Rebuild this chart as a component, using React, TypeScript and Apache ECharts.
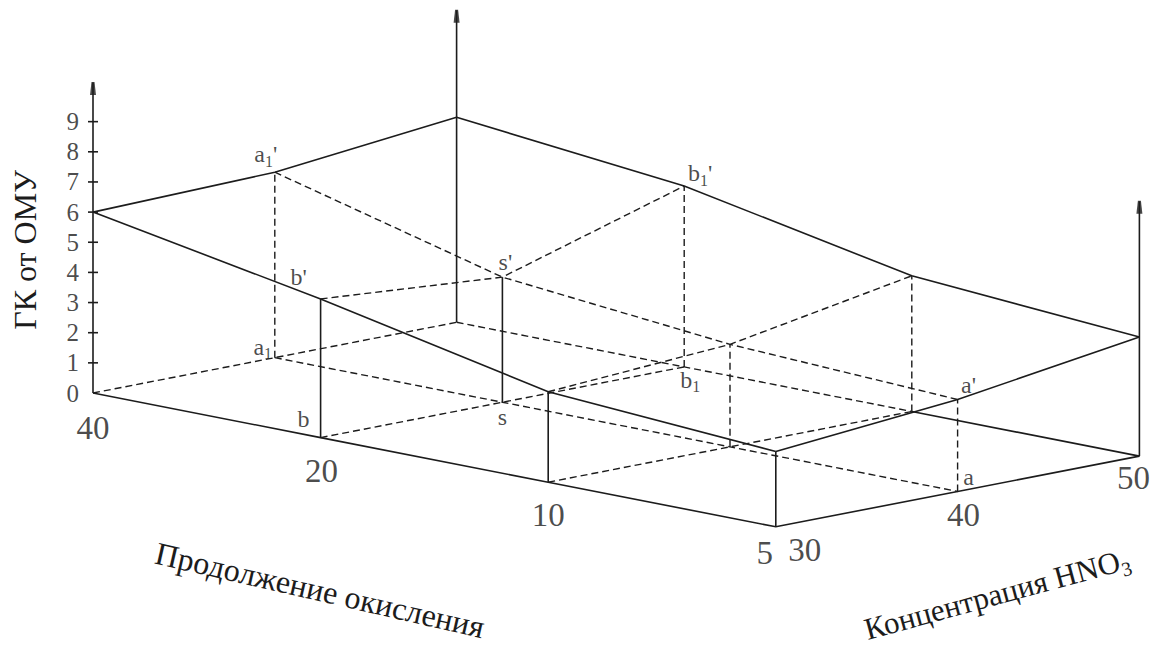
import React, { useEffect, useRef } from "react";
import * as echarts from "echarts";

// Oxidation time (categories along the front edge) and HNO3 concentration
const durations = [40, 20, 10, 5];
const concentrations = [30, 40, 50];

// ГК от ОМУ for each oxidation time, one list per HNO3 concentration
const gkConc30 = [6.0, 4.6, 3.0, 2.5];
const gkConc40 = [6.15, 4.15, 3.4, 3.05];
const gkConc50 = [6.8, 6.0, 4.5, 3.95];

// Vertical scale tick labels
const gkTicks = [0, 1, 2, 3, 4, 5, 6, 7, 8, 9];

// Heights reached by the three drawn vertical axes
const axisTopFront = 10.3;
const axisTopBack = 10.35;
const axisTopRight = 8.45;

// Named points: [duration index, concentration index, on surface?, name]
const pointNames: [number, number, boolean, string][] = [
  [0, 1, true, "a1'"],
  [1, 0, true, "b'"],
  [1, 1, true, "s'"],
  [1, 2, true, "b1'"],
  [3, 1, true, "a'"],
  [0, 1, false, "a1"],
  [1, 0, false, "b"],
  [1, 1, false, "s"],
  [1, 2, false, "b1"],
  [3, 1, false, "a"],
];

const gkByConc = [gkConc30, gkConc40, gkConc50];

// ---- oblique projection (layout) ----
const ORIGIN = [93, 393];
const DUR_STEP = [227.6, 44.6];
const CONC_STEP = [18.18, -3.535];
const GK_STEP = 30.15;

const project = (di: number, conc: number, h: number): [number, number] => [
  ORIGIN[0] + di * DUR_STEP[0] + (conc - concentrations[0]) * CONC_STEP[0],
  ORIGIN[1] + di * DUR_STEP[1] + (conc - concentrations[0]) * CONC_STEP[1] - h * GK_STEP,
];
const top = (di: number, ci: number) => project(di, concentrations[ci], gkByConc[ci][di]);
const base = (di: number, ci: number) => project(di, concentrations[ci], 0);

const FONT = "Liberation Serif";
const INK = "#1c1c1c";

const labelOffsets: Record<string, [number, number]> = {
  "a1':top": [-9, -18],
  "b':top": [-22, -22],
  "s':top": [3, -15],
  "b1':top": [16, -13],
  "a':top": [11, -14],
  "a1:base": [-12, -11],
  "b:base": [-17, -19],
  "s:base": [0, 15],
  "b1:base": [6, 13],
  "a:base": [11, -14],
};
const durLabelOffsets: [number, number][] = [[0, 35], [1, 33], [0, 33], [-11, 26]];
const concLabelOffsets: [number, number][] = [[29, 23], [6, 24], [-6, 22]];

const richName = (name: string) => {
  const letter = name[0];
  const sub = name.includes("1") ? "{sub|1}" : "";
  const prime = name.endsWith("'") ? "{m|'}" : "";
  return `{m|${letter}}${sub}${prime}`;
};

export default function App() {
  const ref = useRef<HTMLDivElement>(null);

  useEffect(() => {
    if (!ref.current) return;
    const chart = echarts.init(ref.current, undefined, { renderer: "svg" });

    const nD = durations.length;
    const nC = concentrations.length;
    const idxD = durations.map((_, i) => i);
    const idxC = concentrations.map((_, i) => i);

    const solid: [number, number][][] = [];
    const dashed: [number, number][][] = [];

    // surface outline
    solid.push(idxD.map((i) => top(i, 0)));
    solid.push(idxC.map((j) => top(0, j)));
    solid.push(idxD.map((i) => top(i, nC - 1)));
    solid.push(idxC.map((j) => top(nD - 1, j)));
    // base front edges
    solid.push([...idxD.map((i) => base(i, 0)), ...idxC.slice(1).map((j) => base(nD - 1, j))]);
    solid.push([base(2, nC - 1), base(3, nC - 1)]);
    // solid verticals
    [[1, 0], [1, 1], [2, 0], [3, 0]].forEach(([i, j]) => solid.push([base(i, j), top(i, j)]));
    // axes
    const axes: [number, number][][] = [
      [project(0, 30, 0), project(0, 30, axisTopFront)],
      [project(0, 50, 0), project(0, 50, axisTopBack)],
      [project(3, 50, 0), project(3, 50, axisTopRight)],
    ];
    axes.forEach((a) => solid.push(a));
    // ticks on the front-left axis
    gkTicks.slice(1).forEach((t) => {
      const [x, y] = project(0, 30, t);
      solid.push([[x - 5, y], [x + 5, y]]);
    });

    // dashed grid on the surface
    dashed.push(idxD.map((i) => top(i, 1)));
    dashed.push(idxC.map((j) => top(1, j)));
    dashed.push(idxC.map((j) => top(2, j)));
    // dashed grid on the base
    dashed.push(idxD.map((i) => base(i, 1)));
    dashed.push(idxC.map((j) => base(1, j)));
    dashed.push(idxC.map((j) => base(2, j)));
    dashed.push(idxC.map((j) => base(0, j)));
    dashed.push([base(0, 2), base(1, 2), base(2, 2)]);
    // dashed verticals
    [[0, 1], [1, 2], [2, 1], [2, 2], [3, 1]].forEach(([i, j]) => dashed.push([base(i, j), top(i, j)]));

    const labelRich = {
      m: { fontSize: 24, fontFamily: FONT, color: INK },
      sub: { fontSize: 16, fontFamily: FONT, color: INK, verticalAlign: "bottom" as const, padding: [0, 0, -3, 0] },
    };

    const nameData = pointNames.map(([di, ci, onTop, name]) => {
      const key = `${name}:${onTop ? "top" : "base"}`;
      return {
        value: onTop ? top(di, ci) : base(di, ci),
        label: { formatter: richName(name), offset: labelOffsets[key] ?? [0, 0] },
      };
    });

    const tickData = gkTicks.map((t) => ({ value: project(0, 30, t), name: String(t) }));
    const durData = durations.map((d, i) => ({
      value: base(i, 0),
      label: { formatter: String(d), offset: durLabelOffsets[i] },
    }));
    const concData = concentrations.map((c, j) => ({
      value: base(nD - 1, j),
      label: { formatter: String(c), offset: concLabelOffsets[j] },
    }));

    const option: any = {
      animation: false,
      backgroundColor: "#ffffff",
      grid: { left: 0, right: 0, top: 0, bottom: 0 },
      xAxis: { type: "value", min: 0, max: 1162, show: false },
      yAxis: { type: "value", min: 0, max: 648, inverse: true, show: false },
      series: [
        {
          type: "lines",
          coordinateSystem: "cartesian2d",
          polyline: true,
          silent: true,
          lineStyle: { color: INK, width: 1.6, opacity: 1 },
          data: solid.map((coords) => ({ coords })),
        },
        {
          type: "lines",
          coordinateSystem: "cartesian2d",
          polyline: true,
          silent: true,
          lineStyle: { color: INK, width: 1.4, type: [7, 4], opacity: 1 },
          data: dashed.map((coords) => ({ coords })),
        },
        {
          type: "scatter",
          silent: true,
          symbol: "path://M1,0 L3,0 L4,12 L0,12 Z",
          symbolSize: [6, 13],
          symbolOffset: [0, 6],
          itemStyle: { color: INK },
          data: axes.map((a) => a[1]),
        },
        {
          type: "scatter",
          silent: true,
          symbolSize: 0,
          data: nameData,
          label: {
            show: true,
            position: "inside",
            align: "center",
            verticalAlign: "middle",
            rich: labelRich,
          },
        },
        {
          type: "scatter",
          silent: true,
          symbolSize: 0,
          data: tickData,
          label: {
            show: true,
            position: "left",
            distance: 14,
            formatter: (p: any) => p.name,
            fontSize: 25,
            fontFamily: FONT,
            color: INK,
          },
        },
        {
          type: "scatter",
          silent: true,
          symbolSize: 0,
          data: [...durData, ...concData],
          label: {
            show: true,
            position: "inside",
            align: "center",
            verticalAlign: "middle",
            fontSize: 33,
            fontFamily: FONT,
            color: INK,
          },
        },
      ],
      graphic: [
        {
          type: "text",
          x: 25,
          y: 250,
          rotation: Math.PI / 2,
          style: {
            text: "ГК от ОМУ",
            font: `32px ${FONT}`,
            fill: INK,
            align: "center",
            verticalAlign: "middle",
          },
        },
        {
          type: "text",
          x: 320,
          y: 590,
          rotation: -0.225,
          style: {
            text: "Продолжение окисления",
            font: `32px ${FONT}`,
            fill: INK,
            align: "center",
            verticalAlign: "middle",
          },
        },
        {
          type: "text",
          x: 997,
          y: 594,
          rotation: 0.265,
          style: {
            text: "{m|Концентрация HNO}{s|3}",
            fill: INK,
            align: "center",
            verticalAlign: "middle",
            rich: {
              m: { fontSize: 31, fontFamily: FONT, fill: INK },
              s: { fontSize: 20, fontFamily: FONT, fill: INK, verticalAlign: "bottom", padding: [0, 0, -4, 0] },
            },
          },
        },
      ],
    };

    chart.setOption(option);
    return () => chart.dispose();
  }, []);

  return (
    <div
      ref={ref}
      style={{ position: "fixed", left: 0, top: 0, width: 1162, height: 648, background: "#fff" }}
    />
  );
}
